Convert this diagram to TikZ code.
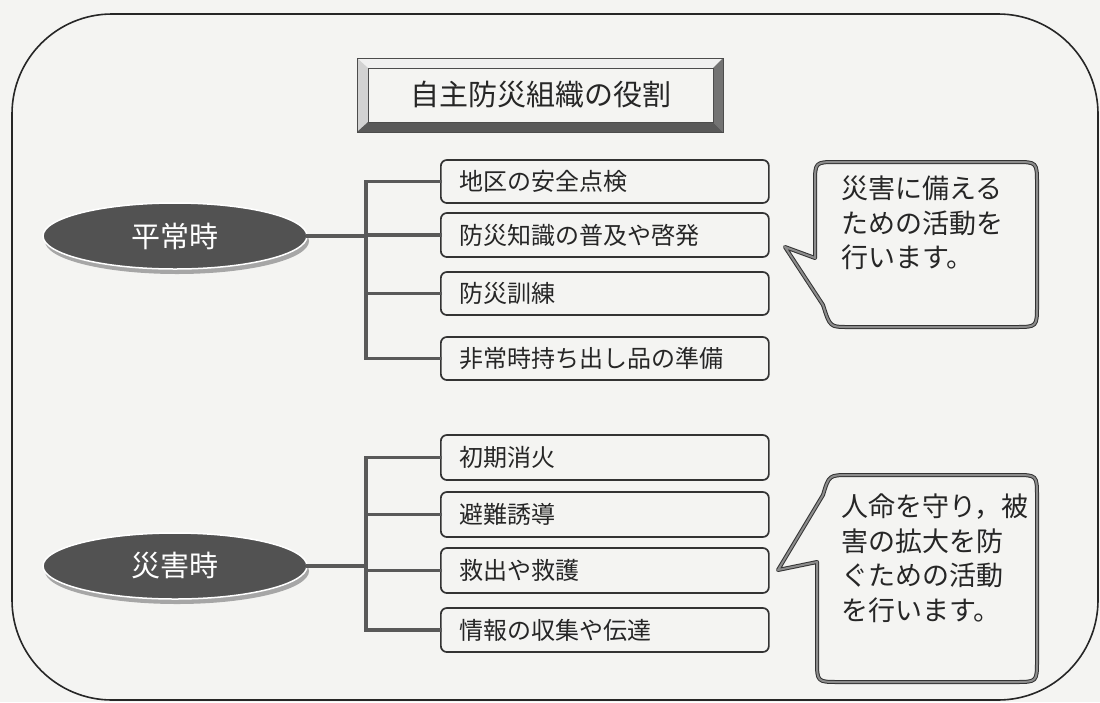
\documentclass[tikz,border=0pt]{standalone}
\usepackage{fontspec}
\newfontfamily\jp{Noto Sans CJK JP}
\usetikzlibrary{shapes.geometric,shadows}
\definecolor{bgc}{RGB}{244,244,242}
\begin{document}
\begin{tikzpicture}[x=1pt,y=-1pt,
  every node/.style={font=\jp},
  frame/.style={draw=black!85,line width=1.6pt,rounded corners=100pt},
  item/.style={draw=black!80,line width=1.7pt,rounded corners=6pt,fill=bgc,anchor=west,
    minimum width=328pt,text width=290pt,align=left,inner xsep=19pt,inner ysep=0pt,
    font=\jp\fontsize{24}{28}\selectfont,text=black!85},
  conn/.style={draw=black!65,line width=3.6pt,line cap=rect},
  oval/.style={ellipse,fill=black!68,draw=white,line width=1.5pt,minimum width=264pt,
    minimum height=66pt,inner sep=0pt,text=white,font=\jp\fontsize{29}{30}\selectfont,
    drop shadow={shadow xshift=2pt,shadow yshift=-5pt,fill=black!35,opacity=1}},
  bubble/.style={draw=black!80,line width=1pt,double=black!45,double distance=2pt,
    fill=bgc,line join=round},
  btext/.style={anchor=north west,inner sep=0pt,align=left,
    font=\jp\fontsize{27}{34.5}\selectfont,text=black!85},
  titlebox/.style={draw=black!70,line width=1pt,fill=bgc,minimum width=345pt,
    minimum height=54pt,inner sep=0pt,font=\jp\fontsize{29}{30}\selectfont,text=black!85}
]
\fill[bgc] (0,0) rectangle (1100,702);
\useasboundingbox (0,0) rectangle (1100,702);
% outer frame
\draw[frame] (12,14) rectangle (1098,700);

% title with bevel
\fill[gray!12] (357,58)--(723,58)--(713,68)--(368,68)--cycle;
\fill[gray!35] (357,58)--(368,68)--(368,122)--(357,132)--cycle;
\fill[black!55] (723,58)--(723,132)--(713,122)--(713,68)--cycle;
\fill[black!65] (357,132)--(723,132)--(713,122)--(368,122)--cycle;
\draw[black!70,line width=1pt] (357,58) rectangle (723,132);
\node[titlebox] (title) at (540.5,95) {自主防災組織の役割};

% ovals
\node[oval] (e1) at (175,236) {平常時};
\node[oval] (e2) at (175,566) {災害時};

% items, upper group
\node[item,minimum height=43pt] (b1) at (440,181.5) {地区の安全点検};
\node[item,minimum height=44pt] (b2) at (440,235) {防災知識の普及や啓発};
\node[item,minimum height=43pt] (b3) at (440,293.5) {防災訓練};
\node[item,minimum height=43pt] (b4) at (440,358.5) {非常時持ち出し品の準備};
% items, lower group
\node[item,minimum height=45pt] (b5) at (440,457.5) {初期消火};
\node[item,minimum height=45pt] (b6) at (440,514.5) {避難誘導};
\node[item,minimum height=45pt] (b7) at (440,570.5) {救出や救護};
\node[item,minimum height=44pt] (b8) at (440,630) {情報の収集や伝達};

% connectors
\coordinate (j1) at (366,238);
\coordinate (j2) at (366,568);
\draw[conn] (e1.east) -- (e1.east -| j1);
\draw[conn] (b1.west -| j1) -- (b4.west -| j1);
\foreach \b in {b1,b2,b3,b4} \draw[conn] (\b.west -| j1) -- (\b.west);
\draw[conn] (e2.east) -- (e2.east -| j2);
\draw[conn] (b5.west -| j2) -- (b8.west -| j2);
\foreach \b in {b5,b6,b7,b8} \draw[conn] (\b.west -| j2) -- (\b.west);

% callout 1
\draw[bubble] (785,247) -- (815,258) -- (815,184) .. controls (815,162) .. (837,162)
  -- (1015,162) .. controls (1037,162) .. (1037,184) -- (1037,305)
  .. controls (1037,327) .. (1015,327) -- (848,327) .. controls (830,327) .. (823,305) -- cycle;
\node[btext] (t1) at (841,176) {災害に備える\\ための活動を\\行います。};

% callout 2
\draw[bubble] (778,570) -- (823,495) .. controls (829,475) .. (850,475)
  -- (1015,475) .. controls (1037,475) .. (1037,497) -- (1037,660)
  .. controls (1037,682) .. (1015,682) -- (839,682) .. controls (817,682) .. (817,660)
  -- (817,562) -- cycle;
\node[btext] (t2) at (841,494) {人命を守り，被\\害の拡大を防\\ぐための活動\\を行います。};
\end{tikzpicture}
\end{document}
